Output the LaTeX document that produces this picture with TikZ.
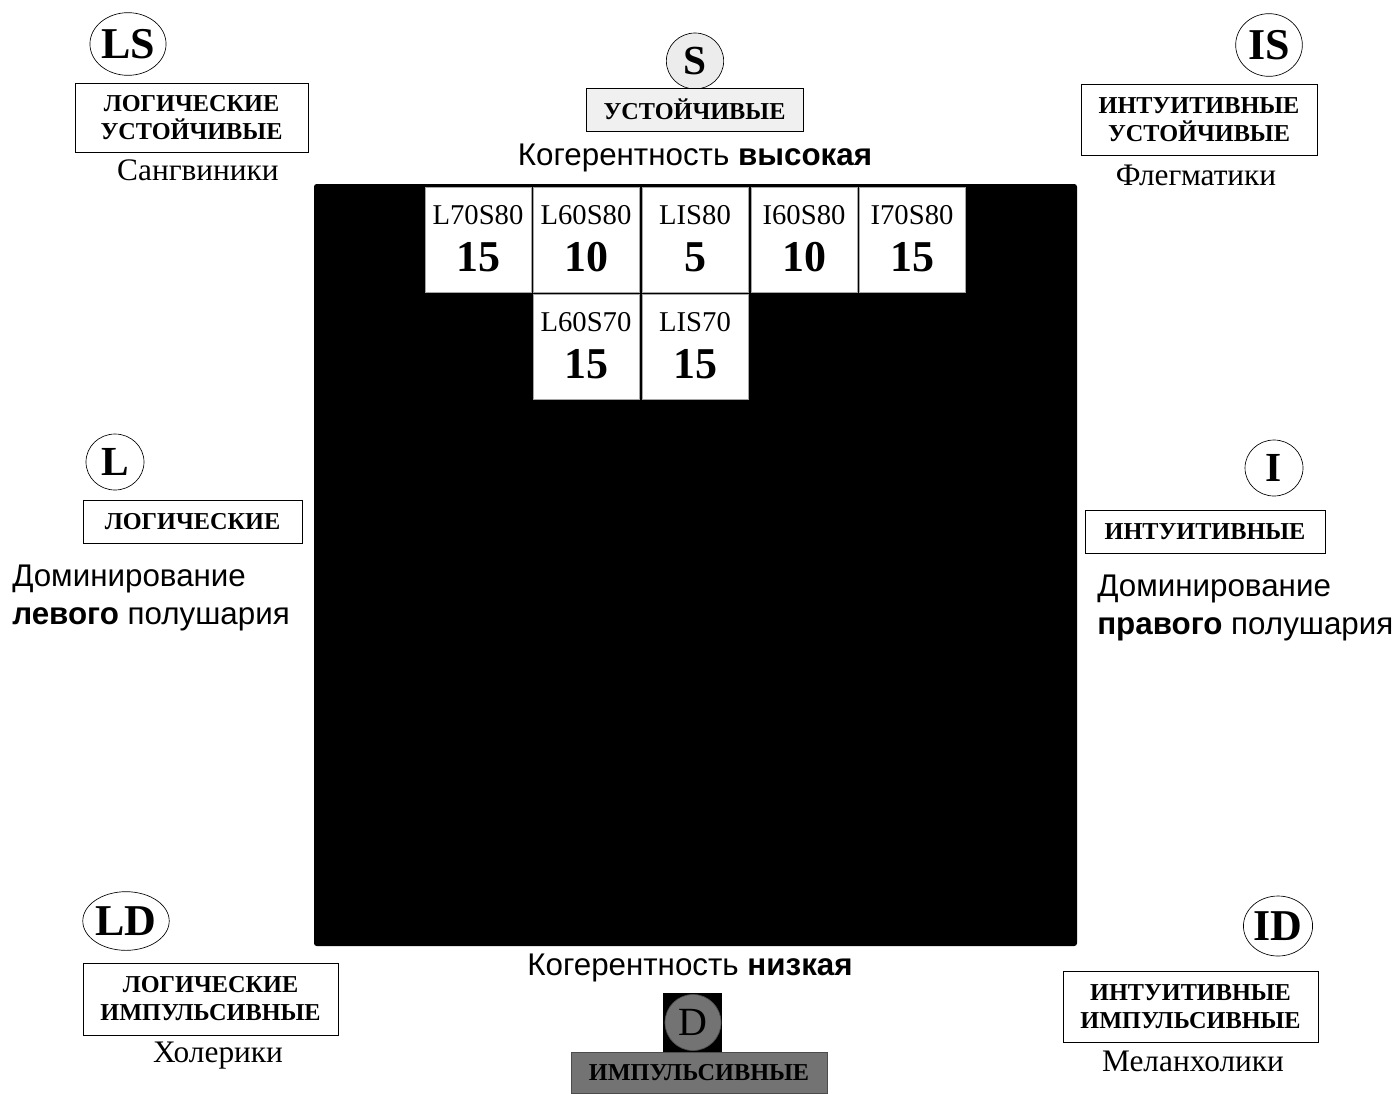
\documentclass[tikz,border=0pt]{standalone}
\usepackage{fontspec}
\setmainfont{Liberation Serif}
\setsansfont{Liberation Sans}
\begin{document}
\begin{tikzpicture}[x=0.75pt,y=-0.75pt,
  capbox/.style={draw=black, line width=0.6pt, fill=white, inner sep=0pt, align=center,
     font=\fontsize{18.2}{21}\selectfont\bfseries},
  circ/.style={draw=black, line width=0.5pt, ellipse, inner sep=0pt, fill=white,
     font=\fontsize{33}{33}\selectfont\bfseries},
  circone/.style={circ, font=\fontsize{31}{31}\selectfont\bfseries},
  temper/.style={inner sep=0pt, font=\fontsize{23.5}{26}\selectfont},
  coher/.style={inner sep=0pt, font=\sffamily\fontsize{23.5}{26}\selectfont},
  dom/.style={inner sep=0pt, align=left, anchor=west, font=\sffamily\fontsize{23.5}{28.5}\selectfont},
  cell/.style={draw=gray!70, line width=0.6pt, fill=white, minimum width=79.5pt, minimum height=78.75pt, inner sep=0pt},
  clab/.style={inner sep=0pt, font=\fontsize{21.5}{21.5}\selectfont},
  cnum/.style={inner sep=0pt, font=\fontsize{33}{33}\selectfont\bfseries},
  dark/.style={fill=black!55}
]
\usetikzlibrary{shapes.geometric}
\fill[white] (0,0) rectangle (1398,1093);
\useasboundingbox (0,0) rectangle (1398,1093);

% big black square
\node[fill=black, rounded corners=2pt, minimum width=572.25pt, minimum height=571.5pt, inner sep=0pt] (sq) at (695.5,565) {};

% cells
\node[cell] (c1) at (478,239.5) {};
\node[cell] (c2) at (586,239.5) {};
\node[cell] (c3) at (695,239.5) {};
\node[cell] (c4) at (804,239.5) {};
\node[cell] (c5) at (912,239.5) {};
\node[cell] (c6) at (586,347) {};
\node[cell] (c7) at (695,347) {};
\foreach \c/\t/\n in {c1/L70S80/15, c2/L60S80/10, c3/LIS80/5, c4/I60S80/10, c5/I70S80/15, c6/L60S70/15, c7/LIS70/15}{
  \node[clab] (\c t) at ([yshift=18.4pt]\c.center) {\t};
  \node[cnum] (\c n) at ([yshift=-13.1pt]\c.center) {\n};
}

% top-left LS
\node[circ, minimum width=49.5pt, minimum height=47pt] (LS) at (128,44) {LS};
\node[capbox, minimum width=174.75pt, minimum height=51.75pt] (LSb) at (191.5,117.5) {ЛОГИЧЕСКИЕ\\УСТОЙЧИВЫЕ};
\node[temper] (LSt) at (198,170) {Сангвиники};

% top S
\node[circone, fill=gray!15, minimum width=43pt, minimum height=42pt] (S) at (695,61) {S};
\node[capbox, fill=gray!12, minimum width=162.75pt, minimum height=32.25pt] (Sb) at (694.5,109.5) {УСТОЙЧИВЫЕ};
\node[coher] (Hi) at (695,158) {Когерентность \textbf{высокая}};

% top-right IS
\node[circ, minimum width=50pt, minimum height=47pt] (IS) at (1269,45) {IS};
\node[capbox, minimum width=177pt, minimum height=53.25pt] (ISb) at (1199,119.5) {ИНТУИТИВНЫЕ\\УСТОЙЧИВЫЕ};
\node[temper] (ISt) at (1196,175) {Флегматики};

% left L
\node[circone, minimum width=43.5pt, minimum height=42pt] (L) at (115,462) {L};
\node[capbox, minimum width=164.25pt, minimum height=32.25pt] (Lb) at (192.5,521.5) {ЛОГИЧЕСКИЕ};
\node[dom] (Lt) at (12,597.5) {Доминирование\\\textbf{левого} полушария};

% right I
\node[circone, minimum width=43.5pt, minimum height=42pt] (I) at (1274,468) {I};
\node[capbox, minimum width=180pt, minimum height=32.25pt] (Ib) at (1205,531.5) {ИНТУИТИВНЫЕ};
\node[dom] (It) at (1097,607.5) {Доминирование\\\textbf{правого} полушария};

% bottom-left LD
\node[circ, minimum width=50pt, minimum height=44pt] (LD) at (126,921) {LD};
\node[capbox, minimum width=191.25pt, minimum height=54pt] (LDb) at (210.5,999) {ЛОГИЧЕСКИЕ\\ИМПУЛЬСИВНЫЕ};
\node[temper] (LDt) at (218,1056) {Холерики};

% bottom D
\node[coher] (Lo) at (690,968) {Когерентность \textbf{низкая}};
\node[fill=black, minimum width=44.25pt, minimum height=44.25pt, inner sep=0pt] (Dsq) at (692.5,1022.5) {};
\node[circone, dark, draw=black!70, minimum width=42pt, minimum height=42pt, font=\fontsize{30}{30}\selectfont] (D) at (693,1022.5) {D};
\node[capbox, dark, draw=black!70, minimum width=192pt, minimum height=30.75pt] (Db) at (699,1072.5) {ИМПУЛЬСИВНЫЕ};

% bottom-right ID
\node[circ, minimum width=51pt, minimum height=45pt] (ID) at (1278,926) {ID};
\node[capbox, minimum width=191.25pt, minimum height=53.25pt] (IDb) at (1190.5,1006.5) {ИНТУИТИВНЫЕ\\ИМПУЛЬСИВНЫЕ};
\node[temper] (IDt) at (1193,1061) {Меланхолики};
\end{tikzpicture}
\end{document}
